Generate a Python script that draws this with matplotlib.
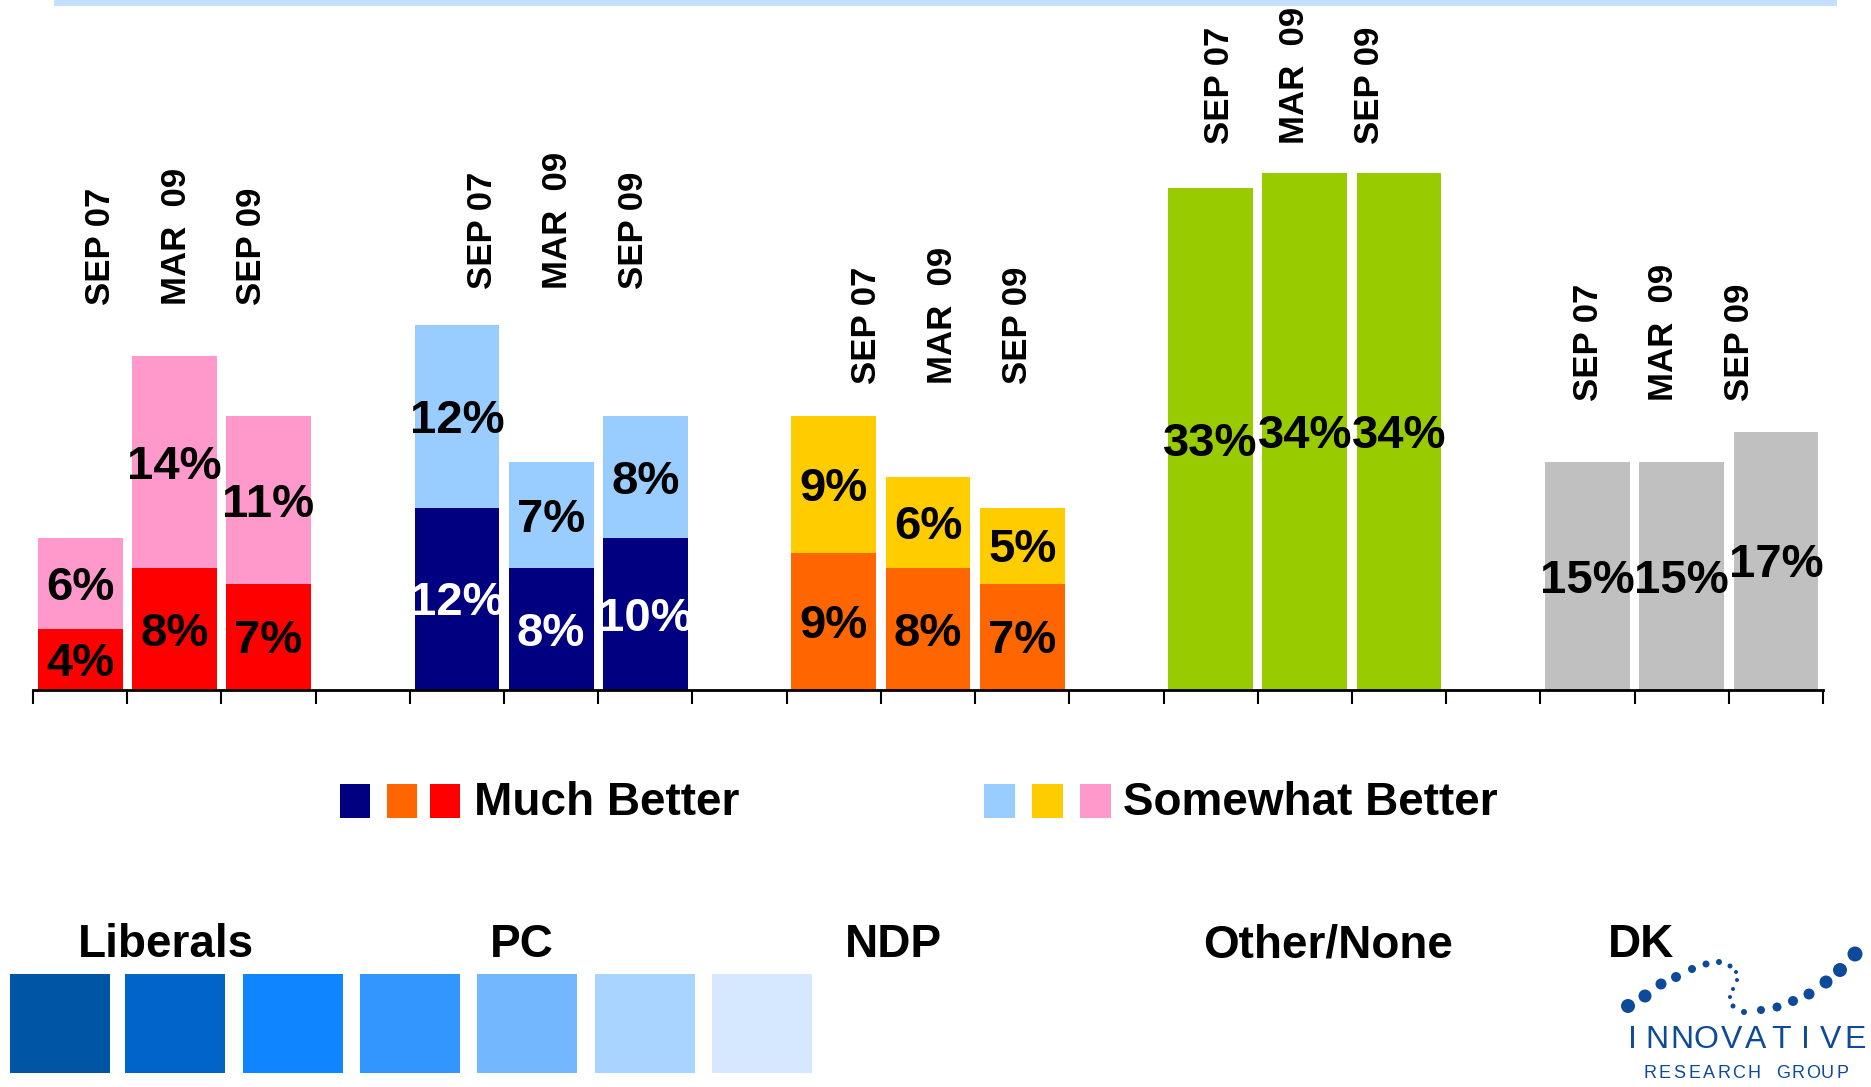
import numpy as np
import matplotlib
matplotlib.use('Agg')
import matplotlib.pyplot as plt
from matplotlib.patches import Rectangle

# data
parties = ['Liberals', 'PC', 'NDP', 'Other/None', 'DK']
waves = ['SEP 07', 'MAR  09', 'SEP 09']
much_better = {
    'Liberals': [4, 8, 7],
    'PC': [12, 8, 10],
    'NDP': [9, 8, 7],
    'Other/None': [33, 34, 34],
    'DK': [15, 15, 17],
}
somewhat_better = {
    'Liberals': [6, 14, 11],
    'PC': [12, 7, 8],
    'NDP': [9, 6, 5],
    'Other/None': [0, 0, 0],
    'DK': [0, 0, 0],
}
much_colors = {'Liberals': '#FF0000', 'PC': '#000080', 'NDP': '#FF6600',
               'Other/None': '#99CC00', 'DK': '#C0C0C0'}
some_colors = {'Liberals': '#FF99CC', 'PC': '#99CCFF', 'NDP': '#FFCC00'}
swatches = ['#0055A5', '#0064C8', '#0F86FF', '#3396FF', '#73B8FF', '#A8D4FF', '#D5E8FF']

# layout bits (date label placement per group)
date_dx = [0.02, 0.07, 0.15, -0.11, -0.19]
date_dy = [3.3, 2.4, 2.1, 1.9, 2.0]

W, H = 1871, 1087
fig = plt.figure(figsize=(W / 100, H / 100), dpi=100)

# overlay in pixel coords (top-left origin) for the decorations
ov = fig.add_axes([0, 0, 1, 1])
ov.set_xlim(0, W)
ov.set_ylim(H, 0)
ov.axis('off')

ax = fig.add_axes([33 / W, (H - 690) / H, (1823 - 33) / W, 608 / H])
ax.patch.set_alpha(0)
ax.set_xlim(-0.5, 18.5)
ax.set_ylim(0, 40)
for s in ['top', 'right', 'left']:
    ax.spines[s].set_visible(False)
ax.spines['bottom'].set_linewidth(2)
ax.set_yticks([])
ax.set_xticks(np.arange(-0.5, 19, 1))
ax.set_xticklabels([])
ax.tick_params(axis='x', direction='out', length=10, width=1.5)

bold = dict(family='Liberation Sans', weight='bold')
off = 0.3
for g, p in enumerate(parties):
    xs = np.arange(3) + g * 4
    mb = np.array(much_better[p])
    sb = np.array(somewhat_better[p])
    ax.bar(xs, mb, width=0.9, color=much_colors[p])
    if sb.sum() > 0:
        ax.bar(xs, sb, bottom=mb, width=0.9, color=some_colors[p])
    tc = 'white' if p == 'PC' else 'black'
    for x, a, b in zip(xs, mb, sb):
        ax.text(x, a / 2 - off, f'{a}%', ha='center', va='center', fontsize=34,
                color=tc, **bold)
        if b > 0:
            ax.text(x, a + b / 2 - off, f'{b}%', ha='center', va='center',
                    fontsize=34, color='black', **bold)
    top = (mb + sb).max() + date_dy[g]
    for k, w in enumerate(waves):
        ax.text(xs[1] + date_dx[g] + (k - 1) * 0.8, top, w, rotation=90,
                ha='center', va='bottom', fontsize=25, clip_on=False, **bold)

# top strip
ov.add_patch(Rectangle((54, 0), 1837 - 54, 6, color='#C5E0FF', lw=0))

# legend
for x0, c in zip([340, 387, 430], ['#000080', '#FF6600', '#FF0000']):
    ov.add_patch(Rectangle((x0, 784), 30, 34, color=c, lw=0))
ov.text(474, 803, 'Much Better', ha='left', va='center', fontsize=33, **bold)
for x0, c in zip([984, 1032, 1080], ['#99CCFF', '#FFCC00', '#FF99CC']):
    ov.add_patch(Rectangle((x0, 784), 31, 34, color=c, lw=0))
ov.text(1123, 803, 'Somewhat Better', ha='left', va='center', fontsize=33, **bold)

# bottom party names and swatches
for x0, name in zip([78, 490, 845, 1203, 1608], parties):
    ov.text(x0, 957, name, ha='left', va='baseline', fontsize=33, **bold)
for x0, c in zip([10, 125, 243, 360, 477, 595, 712], swatches):
    ov.add_patch(Rectangle((x0, 974), 100, 99, color=c, lw=0))

# logo
logo = '#0D4A9A'
dots_x = [1628, 1645, 1661, 1676, 1692, 1706, 1719, 1730, 1736, 1737, 1733,
          1730, 1733, 1744, 1761, 1777, 1793, 1809, 1826, 1840, 1855]
dots_y = [1006, 996, 984, 977, 969, 964, 962, 966, 972, 980, 989,
          997, 1006, 1012, 1010, 1007, 1001, 994, 982, 970, 954]
dots_d = [14, 13, 11, 10, 8, 7, 6, 5, 4, 4, 4, 4, 5, 6, 8, 9, 10, 11, 13, 14, 15]
ov.scatter(dots_x, dots_y, s=(np.array(dots_d) * 0.72) ** 2, color=logo, lw=0)
for i, ch in enumerate('INNOVATIVE'):
    ov.text(1632 + i * 24.8, 1040, ch, ha='center', va='center', fontsize=23,
            color=logo, family='Liberation Sans')
for i, ch in enumerate('RESEARCH GROUP'):
    ov.text(1650 + i * 14.8, 1073, ch, ha='center', va='center', fontsize=13,
            color=logo, family='Liberation Sans')

fig.savefig('out.png', dpi=100)
